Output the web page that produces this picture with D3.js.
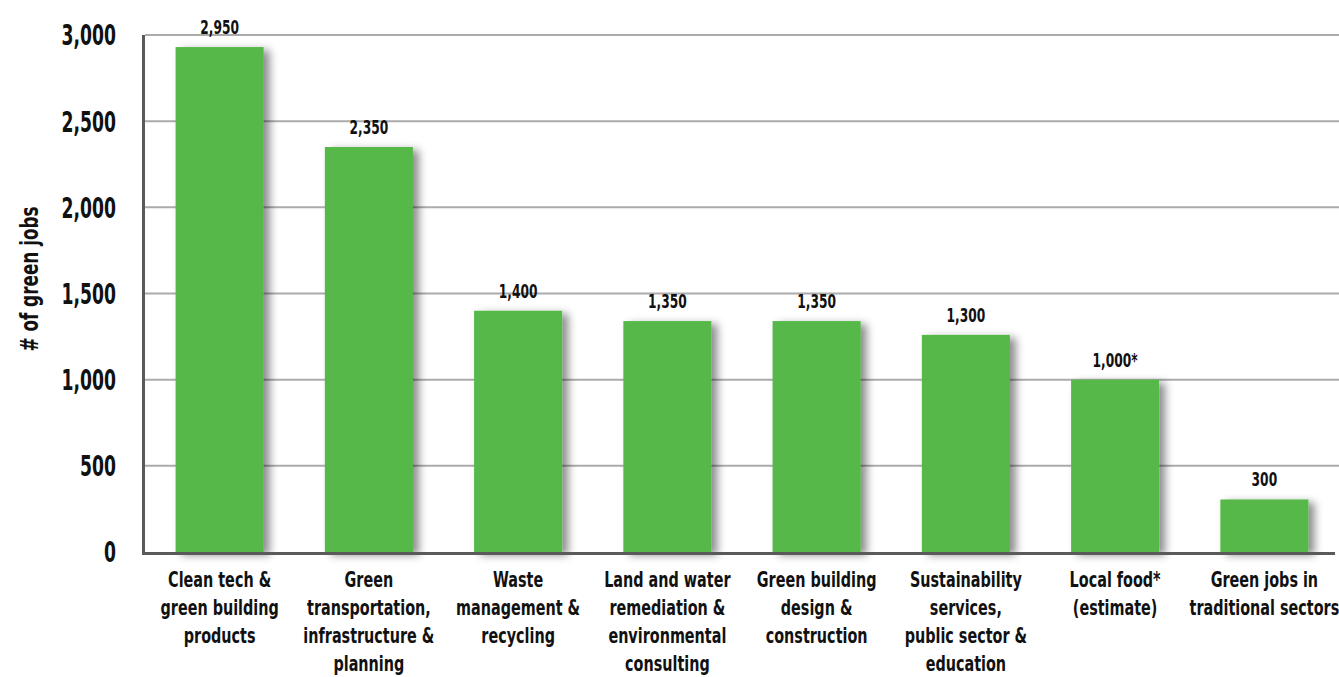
<!DOCTYPE html>
<html>
<head>
<meta charset="utf-8">
<script src="https://cdn.jsdelivr.net/npm/d3@7"></script>
<style>
  body { margin: 0; background: #fff; }
  text { font-family: 'DejaVu Sans', sans-serif; font-stretch: condensed; font-weight: bold; fill: #111; }
</style>
</head>
<body>
<div id="chart"></div>
<script>
// data
var categories = [
  ["Clean tech &", "green building", "products"],
  ["Green", "transportation,", "infrastructure &", "planning"],
  ["Waste", "management &", "recycling"],
  ["Land and water", "remediation &", "environmental", "consulting"],
  ["Green building", "design &", "construction"],
  ["Sustainability", "services,", "public sector &", "education"],
  ["Local food*", "(estimate)"],
  ["Green jobs in", "traditional sectors"]
];
var values = [2930, 2350, 1400, 1340, 1340, 1260, 1000, 305];
var valueLabels = ["2,950", "2,350", "1,400", "1,350", "1,350", "1,300", "1,000*", "300"];
var yTicks = [0, 500, 1000, 1500, 2000, 2500, 3000];

function drawChart() {
  var w = 1339, h = 677;
  var left = 145, right = 1339, plotTop = 35, bottom = 552;

  var svg = d3.select('#chart')
    .append('svg')
    .attr('width', w)
    .attr('height', h);

  // drop shadow for bars
  var filter = svg.append('defs').append('filter')
    .attr('id', 'shadow')
    .attr('x', '-20%').attr('y', '-10%')
    .attr('width', '150%').attr('height', '130%');
  filter.append('feDropShadow')
    .attr('dx', 6).attr('dy', 3)
    .attr('stdDeviation', 4)
    .attr('flood-color', '#000')
    .attr('flood-opacity', 0.45);

  var x = d3.scaleBand()
    .domain(d3.range(values.length))
    .range([left, right])
    .paddingInner(0.41)
    .paddingOuter(0.205);

  var y = d3.scaleLinear()
    .domain([0, 3000])
    .range([bottom, plotTop]);

  // the source font is a narrow one, so squeeze text horizontally
  function place(px, py, sx) {
    return 'translate(' + px + ',' + py + ') scale(' + sx + ',1)';
  }

  // gridlines
  svg.append('g')
    .selectAll('line')
    .data(yTicks.filter(function(d) { return d > 0; }))
    .enter().append('line')
    .attr('x1', left).attr('x2', right)
    .attr('y1', function(d) { return y(d); })
    .attr('y2', function(d) { return y(d); })
    .attr('stroke', '#ababab')
    .attr('stroke-width', 2);

  // bars
  svg.append('g')
    .selectAll('rect')
    .data(values)
    .enter().append('rect')
    .attr('x', function(d, i) { return x(i); })
    .attr('y', function(d) { return y(d); })
    .attr('width', x.bandwidth())
    .attr('height', function(d) { return bottom - y(d); })
    .attr('fill', '#56b84a')
    .attr('filter', 'url(#shadow)');

  // value labels
  svg.append('g')
    .selectAll('text')
    .data(values)
    .enter().append('text')
    .attr('transform', function(d, i) { return place(x(i) + x.bandwidth() / 2, y(d) - 13, 0.68); })
    .attr('text-anchor', 'middle')
    .style('font-size', '20px')
    .text(function(d, i) { return valueLabels[i]; });

  // axis lines
  svg.append('line')
    .attr('x1', left - 1.5).attr('x2', left - 1.5)
    .attr('y1', plotTop).attr('y2', bottom + 1.5)
    .attr('stroke', '#5a5a5a').attr('stroke-width', 3);
  svg.append('line')
    .attr('x1', left - 3).attr('x2', right - 4)
    .attr('y1', bottom + 1.5).attr('y2', bottom + 1.5)
    .attr('stroke', '#5a5a5a').attr('stroke-width', 3);

  // y tick labels
  svg.append('g')
    .selectAll('text')
    .data(yTicks)
    .enter().append('text')
    .attr('transform', function(d) { return place(116, y(d), 0.66); })
    .attr('dy', '0.36em')
    .attr('text-anchor', 'end')
    .style('font-size', '29px')
    .text(d3.format(','));

  // y title
  svg.append('text')
    .attr('transform', 'translate(38,279) rotate(-90) scale(0.78,1)')
    .attr('text-anchor', 'middle')
    .style('font-size', '24px')
    .text('# of green jobs');

  // category labels
  var cat = svg.append('g')
    .selectAll('text')
    .data(categories)
    .enter().append('text')
    .attr('transform', function(d, i) { return place(x(i) + x.bandwidth() / 2, 0, 0.78); })
    .attr('text-anchor', 'middle')
    .style('font-size', '20.5px');

  cat.selectAll('tspan')
    .data(function(d) { return d; })
    .enter().append('tspan')
    .attr('x', 0)
    .attr('y', function(d, j) { return 587 + j * 28; })
    .text(function(d) { return d; });
}

drawChart();
</script>
</body>
</html>
